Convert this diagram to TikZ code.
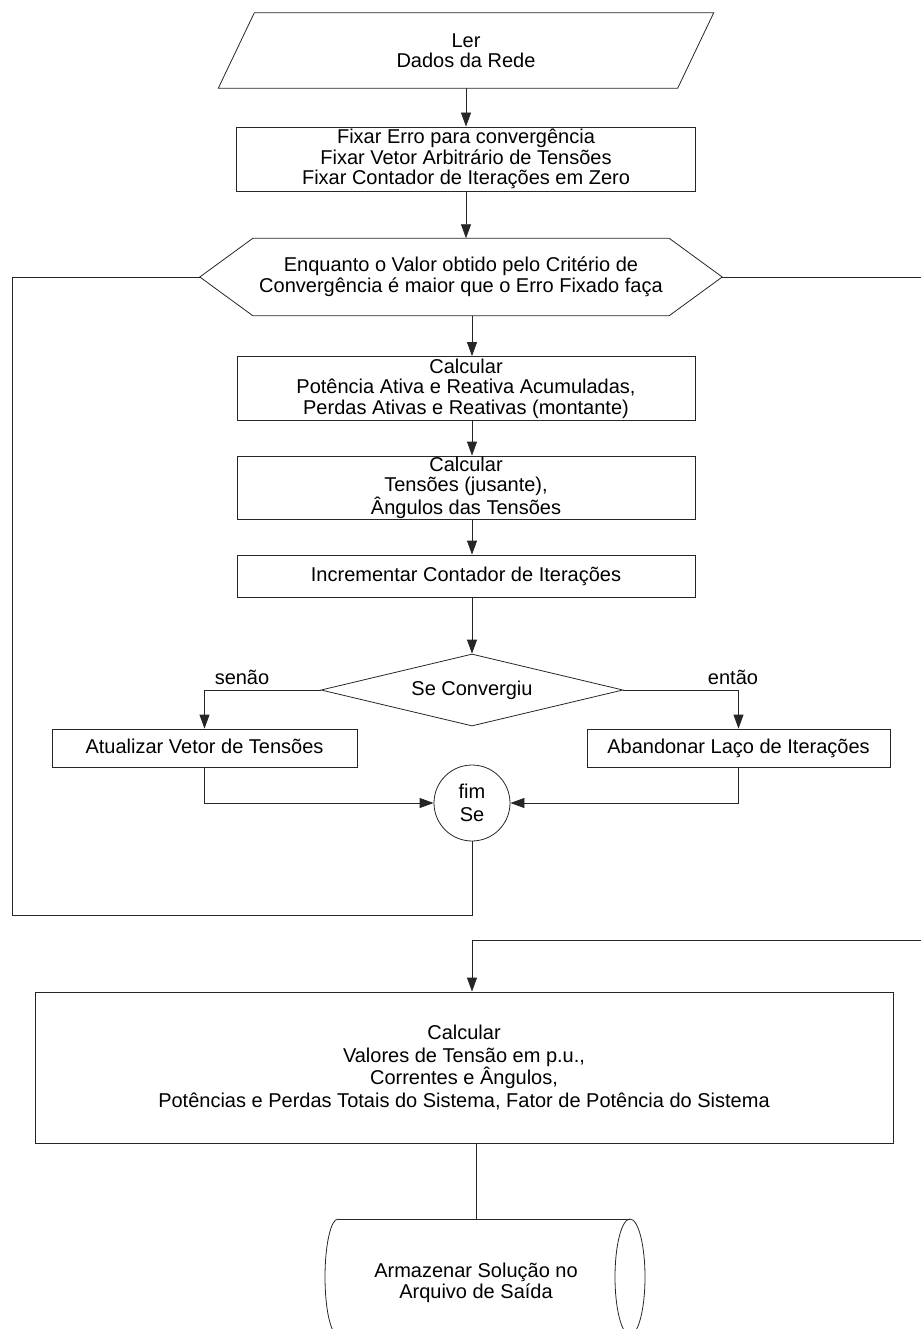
\documentclass[tikz,border=0pt]{standalone}
\usepackage{fontspec}
\setmainfont{Liberation Sans}
\usetikzlibrary{arrows.meta,shapes.geometric,calc}

\begin{document}
\begin{tikzpicture}[x=1pt,y=-1pt,
  every node/.style={font=\fontsize{20}{20.5}\selectfont, align=center, inner sep=0pt},
  oneline/.style={text height=14.5pt, text depth=4pt},
  line/.style={line width=0.8pt, draw=black!85},
  arr/.style={line, -{Triangle[length=14pt,width=10pt]}},
  proc/.style={draw=black!85, line width=0.8pt, rectangle}]

\path[use as bounding box, clip] (0,0) rectangle (921,1329);

% input (parallelogram)
\node[minimum width=495pt, minimum height=75pt] (ler) at (466,50.5) {Ler\\Dados da Rede};
\draw[line] ([xshift=36pt]ler.north west) -- (ler.north east)
  -- ([xshift=-36pt]ler.south east) -- (ler.south west) -- cycle;

% initialisation
\node[proc, minimum width=459pt, minimum height=64pt] (b1) at (466,159)
  {Fixar Erro para convergência\\Fixar Vetor Arbitrário de Tensões\\Fixar Contador de Iterações em Zero};

% loop header (hexagon)
\node[minimum width=522pt, minimum height=77pt] (hex) at (461,277)
  {Enquanto o Valor obtido pelo Critério de\\Convergência é maior que o Erro Fixado faça};
\draw[line] (hex.west) -- ([xshift=53pt]hex.north west) -- ([xshift=-53pt]hex.north east)
  -- (hex.east) -- ([xshift=-53pt]hex.south east) -- ([xshift=53pt]hex.south west) -- cycle;

% loop body
\node[proc, minimum width=458pt, minimum height=64pt] (b2) at (466,388.5)
  {Calcular\\Potência Ativa e Reativa Acumuladas,\\Perdas Ativas e Reativas (montante)};
\node[proc, minimum width=458pt, minimum height=63pt] (b3) at (466,487.5)
  {Calcular\\Tensões (jusante),\\Ângulos das Tensões};
\node[proc, oneline, minimum width=458pt, minimum height=42pt] (b4) at (466,576)
  {Incrementar Contador de Iterações};

\node[diamond, oneline, aspect=4.1, draw=black!85, line width=0.8pt, minimum width=302pt, minimum height=72pt] (dia) at (472,690)
  {Se Convergiu};
\node[proc, oneline, minimum width=305pt, minimum height=38pt] (bl) at (204.5,748) {Atualizar Vetor de Tensões};
\node[proc, oneline, minimum width=303pt, minimum height=38pt] (br) at (738.5,748) {Abandonar Laço de Iterações};
\node[ellipse, draw=black!85, line width=0.8pt, minimum width=76pt, minimum height=76pt,
      font=\fontsize{20}{23}\selectfont] (fim) at (472,803)
  {fim\\Se};

\node[oneline] (senao) at (242,679) {senão};
\node[oneline] (entao) at (733,679) {então};

% results
\node[proc, minimum width=858pt, minimum height=151pt, font=\fontsize{20}{22.5}\selectfont] (b5) at (464,1067.5)
  {Calcular\\Valores de Tensão em p.u.,\\Correntes e Ângulos,\\Potências e Perdas Totais do Sistema, Fator de Potência do Sistema};

% output storage (horizontal drum)
\node (store) at (476,1283) {Armazenar Solução no\\Arquivo de Saída};
\coordinate (cyltop) at (476,1219);
\draw[line] (338,1219) -- (630,1219);
\draw[line] (338,1335) -- (630,1335);
\draw[line] (338,1219) .. controls (330.8,1219) and (325,1245) .. (325,1277)
  .. controls (325,1309) and (330.8,1335) .. (338,1335);
\draw[line] (630,1277) ellipse [x radius=15pt, y radius=58pt];

% connectors
\draw[arr] (ler.south) -- (b1.north);
\draw[arr] (b1.south) -- (b1.south |- hex.north);
\draw[arr] (hex.south -| dia.north) -- (b2.north -| dia.north);
\draw[arr] (b2.south -| dia.north) -- (b3.north -| dia.north);
\draw[arr] (b3.south -| dia.north) -- (b4.north -| dia.north);
\draw[arr] (b4.south -| dia.north) -- (dia.north);
\draw[arr] (dia.west) -| (bl.north);
\draw[arr] (dia.east) -| (br.north);
\draw[arr] (bl.south) |- (fim.west);
\draw[arr] (br.south) |- (fim.east);

\coordinate (loopbase) at (12,915);
\draw[line] (fim.south) |- (loopbase) |- (hex.west);
\coordinate (exitR) at (921,277);
\draw[line] (hex.east) -- (exitR);
\coordinate (entryR) at (921,940);
\draw[arr] (entryR) -| (b5.north -| fim.south);
\draw[line] (b5.south -| cyltop) -- (cyltop);
\end{tikzpicture}
\end{document}
